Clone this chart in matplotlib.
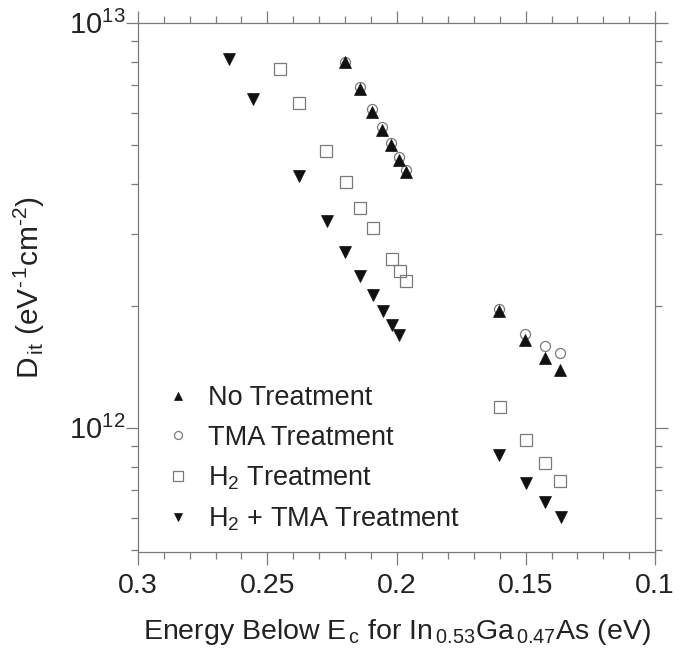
import math
import matplotlib
matplotlib.use("Agg")
import matplotlib.pyplot as plt
from matplotlib.ticker import LogLocator, MultipleLocator, FixedLocator, NullFormatter, FuncFormatter

plt.rcParams['font.family'] = ['Liberation Sans', 'DejaVu Sans']
plt.rcParams['mathtext.fontset'] = 'custom'
plt.rcParams['mathtext.rm'] = 'Liberation Sans'
plt.rcParams['mathtext.it'] = 'Liberation Sans:italic'
plt.rcParams['mathtext.bf'] = 'Liberation Sans:bold'

# Energy below Ec (eV) and interface trap density Dit (eV^-1 cm^-2)
e_no_tma = [0.220, 0.2142, 0.2094, 0.2055, 0.2021, 0.1991, 0.1963, 0.1604, 0.1501, 0.1426, 0.1367]
dit_no_treatment = [7.98e12, 6.85e12, 6.03e12, 5.44e12, 4.98e12, 4.59e12, 4.27e12, 1.945e12, 1.65e12, 1.49e12, 1.39e12]
dit_tma = [8.01e12, 6.93e12, 6.11e12, 5.52e12, 5.06e12, 4.67e12, 4.33e12, 1.96e12, 1.70e12, 1.59e12, 1.53e12]

e_h2 = [0.2451, 0.2376, 0.2272, 0.2197, 0.2140, 0.2092, 0.2019, 0.1988, 0.1962, 0.1601, 0.1500, 0.1425, 0.1367]
dit_h2 = [7.69e12, 6.32e12, 4.83e12, 4.04e12, 3.49e12, 3.11e12, 2.61e12, 2.44e12, 2.30e12, 1.127e12, 9.32e11, 8.17e11, 7.40e11]

e_h2_tma = [0.2648, 0.2555, 0.2376, 0.2270, 0.2198, 0.2140, 0.2092, 0.2054, 0.2019, 0.1990, 0.1604, 0.1500, 0.1425, 0.1364]
dit_h2_tma = [8.12e12, 6.47e12, 4.18e12, 3.23e12, 2.72e12, 2.37e12, 2.13e12, 1.945e12, 1.79e12, 1.69e12, 8.56e11, 7.29e11, 6.55e11, 6.03e11]

labels = ["No Treatment", "TMA Treatment",
          r"H$_\mathregular{2}$ Treatment", r"H$_\mathregular{2}$ + TMA Treatment"]
x_ticks = [0.3, 0.25, 0.2, 0.15, 0.1]

fig = plt.figure(figsize=(6.83, 6.58), dpi=100)
ax = fig.add_axes([138 / 683, 1 - 551.7 / 658, (655 - 138) / 683, (551.7 - 22.7) / 658])

gray = '#7a7a7a'
ink = '#222222'
ax.plot(e_no_tma, dit_tma, linestyle='none', marker='o', ms=7.2, mfc='none',
        mec=gray, mew=0.9, label=labels[1], zorder=3)
ax.plot(e_no_tma, dit_no_treatment, linestyle='none', marker='^', ms=8.0,
        mfc='#111111', mec='#111111', mew=0.5, label=labels[0], zorder=4)
ax.plot(e_h2, dit_h2, linestyle='none', marker='s', ms=8.3, mfc='none',
        mec=gray, mew=0.9, label=labels[2], zorder=3)
ax.plot(e_h2_tma, dit_h2_tma, linestyle='none', marker='v', ms=8.0,
        mfc='#111111', mec='#111111', mew=0.5, label=labels[3], zorder=4)

ax.set_yscale('log')
ax.set_xlim(0.3, 0.1)
ax.set_ylim(4.94e11, 1e13)

ax.xaxis.set_major_locator(FixedLocator(x_ticks))
ax.xaxis.set_major_formatter(FuncFormatter(lambda v, p: ('%g' % v)))
ax.xaxis.set_minor_locator(MultipleLocator(0.01))
ax.yaxis.set_major_locator(FixedLocator([1e12, 1e13]))
ax.yaxis.set_major_formatter(FuncFormatter(
    lambda v, p: r'$\mathregular{10^{%d}}$' % round(math.log10(v))))
ax.yaxis.set_minor_locator(LogLocator(base=10, subs=range(2, 10)))
ax.yaxis.set_minor_formatter(NullFormatter())

for s in ax.spines.values():
    s.set_color(gray)
    s.set_linewidth(0.9)
ax.tick_params(which='both', direction='out', top=True, right=True, color=gray,
               width=0.9, labelcolor=ink)
ax.tick_params(axis='x', which='major', labelsize=20.5, length=9, pad=6)
ax.tick_params(axis='y', which='major', labelsize=21, length=9, pad=0)
ax.tick_params(which='minor', length=5)
ax.tick_params(axis='x', which='both', labeltop=False)
ax.tick_params(axis='y', which='both', labelright=False)

ax.set_xlabel(r'Energy Below E$_\mathregular{\,c}$ for In$_\mathregular{\,0.53}$Ga$_\mathregular{\,0.47}$As (eV)',
              fontsize=20.5, color=ink)
ax.xaxis.set_label_coords(0.5, -0.124)
ax.set_ylabel('D$_\\mathregular{\\,it}$ (eV$^\\mathregular{\u2010\\,1}$cm$^\\mathregular{\u20102}$)',
              fontsize=21.5, color=ink)
ax.yaxis.set_label_coords(-0.176, 0.5)

h, l = ax.get_legend_handles_labels()
order = [1, 0, 2, 3]
leg = ax.legend([h[i] for i in order], [l[i] for i in order], loc='upper left',
                bbox_to_anchor=(0.03, 0.335), frameon=False, fontsize=19.5,
                handletextpad=0.6, labelspacing=0.5, markerscale=0.8,
                handlelength=1.0, labelcolor=ink, borderaxespad=0)

fig.savefig('out.png', dpi=100)
